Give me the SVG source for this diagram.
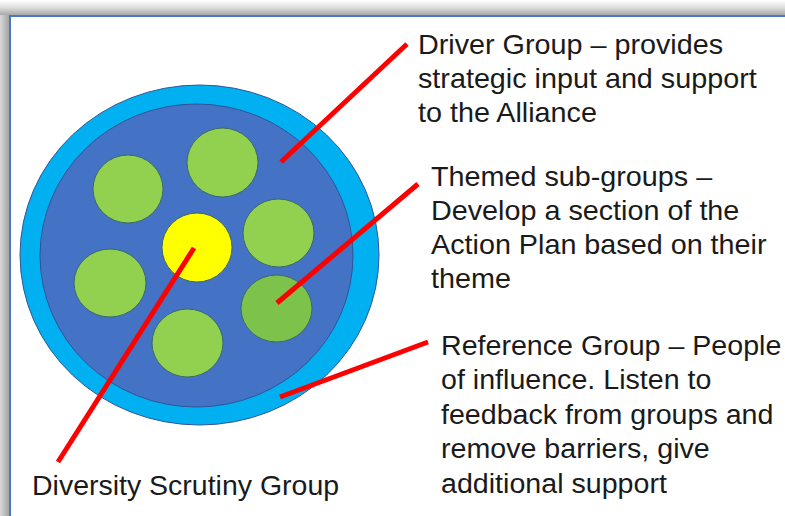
<svg xmlns="http://www.w3.org/2000/svg" width="785" height="516" viewBox="0 0 785 516">
<defs>
<linearGradient id="shTop" x1="0" y1="0" x2="0" y2="1">
<stop offset="0" stop-color="#ffffff"/>
<stop offset="0.5" stop-color="#dedede"/>
<stop offset="1" stop-color="#a8a8a8"/>
</linearGradient>
<linearGradient id="shLeft" x1="0" y1="0" x2="1" y2="0">
<stop offset="0" stop-color="#d8d8d8"/>
<stop offset="1" stop-color="#a4a4a4"/>
</linearGradient>
<style>
.lbl{font-family:"Liberation Sans",Arial,sans-serif;font-size:27px;fill:#1a1a1a}
.green{fill:#92D050;stroke:#3b6a6a;stroke-width:1}
.conn{stroke:#FF0000;stroke-width:5;fill:none;stroke-linecap:butt}
</style>
</defs>
<rect x="0" y="0" width="785" height="516" fill="#ffffff"/>
<g id="frame">
<rect x="0" y="0" width="785" height="15" fill="url(#shTop)"/>
<rect x="0" y="15" width="9" height="501" fill="url(#shLeft)"/>
<line x1="9" y1="16" x2="785" y2="16" stroke="#4a78c8" stroke-width="2"/>
<line x1="10" y1="15" x2="10" y2="516" stroke="#4a78c8" stroke-width="2"/>
</g>
<g id="reference-group"><ellipse cx="199.5" cy="255" rx="179.5" ry="170" fill="#00B0F0" stroke="#2F5597" stroke-width="1"/></g>
<g id="driver-group"><ellipse cx="196.5" cy="255.5" rx="156.5" ry="151.5" fill="#4472C4" stroke="#2F5597" stroke-width="1"/></g>
<g id="subgroup-top"><ellipse class="green" cx="222.5" cy="162.5" rx="35.5" ry="34.5"/></g>
<g id="subgroup-upper-left"><ellipse class="green" cx="128" cy="189" rx="35" ry="34"/></g>
<g id="subgroup-upper-right"><ellipse class="green" cx="278.5" cy="233" rx="35.5" ry="34"/></g>
<g id="subgroup-lower-left"><ellipse class="green" cx="110" cy="283" rx="36" ry="34"/></g>
<g id="subgroup-lower-right"><ellipse class="green" cx="276.5" cy="308.5" rx="35.5" ry="33.5" style="fill:#7CC24B"/></g>
<g id="subgroup-bottom"><ellipse class="green" cx="187.5" cy="343" rx="35.5" ry="34"/></g>
<g id="diversity-scrutiny"><ellipse cx="197" cy="247.5" rx="35" ry="34.5" fill="#FFFF00" stroke="#3b6a6a" stroke-width="1"/></g>
<g id="connectors">
<line class="conn" x1="281" y1="162" x2="407" y2="44"/>
<line class="conn" x1="277" y1="303" x2="418" y2="184"/>
<line class="conn" x1="280" y1="397" x2="428" y2="342"/>
<line class="conn" x1="194" y1="248" x2="58" y2="462"/>
</g>
<g id="label-driver">
<text class="lbl" transform="translate(418,0) scale(1.065,1)"><tspan x="0" y="54">Driver Group – provides</tspan><tspan x="0" y="88">strategic input and support</tspan><tspan x="0" y="122">to the Alliance</tspan></text>
</g>
<g id="label-themed">
<text class="lbl" transform="translate(431,0) scale(1.065,1)"><tspan x="0" y="186">Themed sub-groups –</tspan><tspan x="0" y="220">Develop a section of the</tspan><tspan x="0" y="254">Action Plan based on their</tspan><tspan x="0" y="288">theme</tspan></text>
</g>
<g id="label-reference">
<text class="lbl" transform="translate(441,0) scale(1.06,1)"><tspan x="0" y="355">Reference Group – People</tspan><tspan x="0" y="389.5">of influence. Listen to</tspan><tspan x="0" y="424">feedback from groups and</tspan><tspan x="0" y="458.5">remove barriers, give</tspan><tspan x="0" y="493">additional support</tspan></text>
</g>
<g id="label-diversity">
<text class="lbl" transform="translate(32,0) scale(1.055,1)"><tspan x="0" y="495">Diversity Scrutiny Group</tspan></text>
</g>
</svg>
